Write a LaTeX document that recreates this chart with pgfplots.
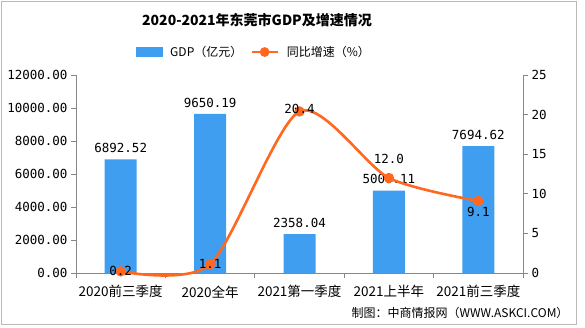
\documentclass[border=0pt]{standalone}
\usepackage{fontspec}
\setmainfont{Noto Sans CJK SC}
\newfontfamily\numfont{DejaVu Sans Mono}
\usepackage{pgfplots}
\pgfplotsset{compat=1.18}
\definecolor{barblue}{RGB}{64,158,240}
\definecolor{lineorange}{RGB}{255,104,30}
\definecolor{axgray}{RGB}{135,135,135}
\begin{document}
\begin{tikzpicture}[x=1bp,y=1bp]
\useasboundingbox (0,0) rectangle (585,327);
\draw[gray!55, line width=0.8bp] (1,3) rectangle (576,326);
\node[font=\fontsize{14bp}{16bp}\selectfont\bfseries] at (257,307) {2020-2021年东莞市GDP及增速情况};
\node[anchor=east, font=\fontsize{12bp}{14bp}\selectfont] at (572,14) {制图：中商情报网（WWW.ASKCI.COM）};
\begin{axis}[
  at={(76bp,54bp)}, anchor=south west,
  scale only axis, width=447bp, height=198bp,
  xmin=-0.5, xmax=4.5, ymin=0, ymax=12000,
  axis x line*=bottom, axis y line*=left,
  axis line style={axgray, line width=0.8bp},
  tick style={axgray, line width=0.8bp},
  tick align=outside,
  xtick={0,1,2,3,4},
  xticklabels={2020前三季度,2020全年,2021第一季度,2021上半年,2021前三季度},
  major x tick style={draw=none},
  minor xtick={-0.5,0.5,1.5,2.5,3.5,4.5},
  minor tick length=5bp,
  major tick length=5bp,
  xticklabel style={font=\fontsize{13.5bp}{15bp}\selectfont, yshift=-4bp},
  ytick={0,2000,...,12000},
  yticklabel style={font=\numfont\fontsize{12.5bp}{14bp}\selectfont},
  /pgf/number format/.cd, fixed, fixed zerofill, precision=2, 1000 sep={}, assume math mode=true,
  /pgfplots/.cd,
  scaled y ticks=false,
  ybar, bar width=32bp,
  nodes near coords, point meta=explicit symbolic,
  every node near coord/.append style={font=\numfont\fontsize{12.5bp}{14bp}\selectfont, text=black, yshift=3bp},
  clip=false,
]
\addplot[fill=barblue, draw=none] coordinates {
  (0,6892.52) [6892.52]
  (1,9650.19) [9650.19]
  (2,2358.04) [2358.04]
  (3,5000.11) [5000.11]
  (4,7694.62) [7694.62]
};
\end{axis}
\begin{axis}[
  at={(76bp,54bp)}, anchor=south west,
  scale only axis, width=447bp, height=198bp,
  xmin=-0.5, xmax=4.5, ymin=0, ymax=25,
  axis x line=none, axis y line*=right,
  axis line style={axgray, line width=0.8bp},
  tick style={axgray, line width=0.8bp},
  tick align=outside, major tick length=5bp,
  ytick={0,5,...,25},
  /pgf/number format/assume math mode=true,
  yticklabel style={font=\numfont\fontsize{12.5bp}{14bp}\selectfont},
  clip=false,
  legend columns=2,
  legend style={draw=none, fill=none, at={(0.398,1.116)}, anchor=center,
    font=\fontsize{12bp}{14bp}\selectfont, column sep=6bp,
    /tikz/every even column/.append style={column sep=6bp}},
  legend image code/.code={\draw[#1] (0bp,0bp) -- (26bp,0bp); \fill[lineorange] (13bp,0bp) circle (3.5bp);},
]
\addlegendimage{legend image code/.code={\fill[barblue] (0bp,-4.5bp) rectangle (26bp,4.5bp);}}
\addlegendentry{GDP（亿元）}
\addplot[lineorange, line width=2.6bp, smooth, tension=0.45, mark=*, mark size=3.8bp,
  mark options={fill=lineorange, draw=lineorange},
  nodes near coords, point meta=explicit symbolic,
  visualization depends on={\thisrow{dy} \as \dy},
  every node near coord/.append style={font=\numfont\fontsize{12.5bp}{14bp}\selectfont, text=black, anchor=center, yshift=\dy bp}]
  table[meta=lab] {
x y lab dy
0 0.2 0.2 0
1 1.1 1.1 0
2 20.4 20.4 2
3 12.0 12.0 19
4 9.1 9.1 -11
};
\addlegendentry{同比增速（\%）}
\end{axis}
\end{tikzpicture}
\end{document}
